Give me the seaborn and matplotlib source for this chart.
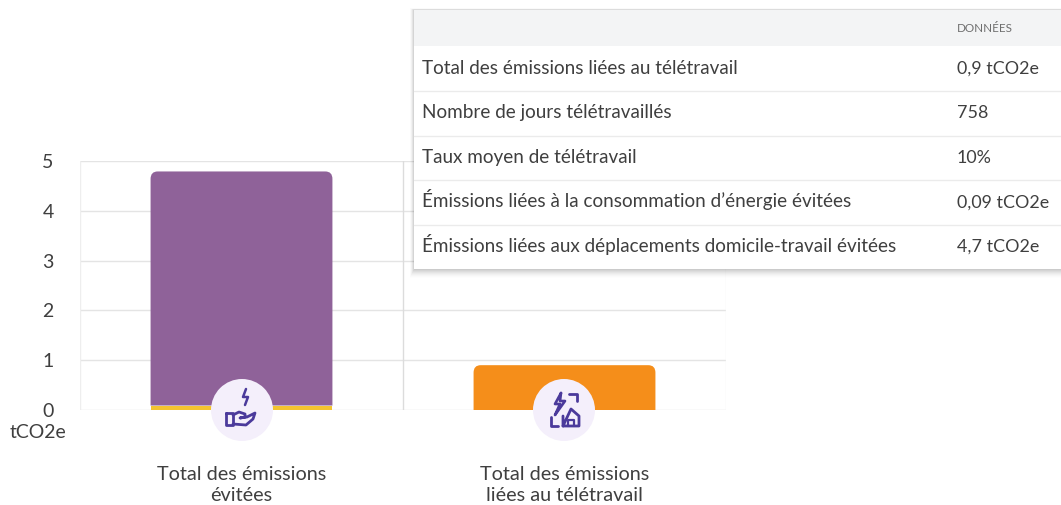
import numpy as np
import pandas as pd
import matplotlib
matplotlib.use("Agg")
import matplotlib.pyplot as plt
from matplotlib.path import Path
from matplotlib.patches import PathPatch, Rectangle, Circle
import seaborn as sns

categories = ["Total des émissions\névitées", "Total des émissions\nliées au télétravail"]
energy_avoided = [0.09, 0.0]
commute_avoided = [4.7, 0.0]
telework = [0.0, 0.9]
y_ticks = [0, 1, 2, 3, 4, 5]
unit = "tCO2e"
table_header = "DONNÉES"
table_rows = ["Total des émissions liées au télétravail", "Nombre de jours télétravaillés",
              "Taux moyen de télétravail", "Émissions liées à la consommation d’énergie évitées",
              "Émissions liées aux déplacements domicile-travail évitées"]
table_values = ["0,9 tCO2e", "758", "10%", "0,09 tCO2e", "4,7 tCO2e"]

W, H = 1061, 505
PURPLE, YELLOW, ORANGE = "#8F6299", "#F4C430", "#F58E1A"
GRID, TXT = "#E4E4E4", "#3F3F3F"

sns.set_theme(style="white")
plt.rcParams["font.family"] = ["Lato", "DejaVu Sans"]

fig = plt.figure(figsize=(W / 100, H / 100), dpi=100, facecolor="white")
ax = fig.add_axes([80 / W, (H - 410) / H, 646 / W, 249 / H])

df = pd.DataFrame({"cat": categories, "energy": energy_avoided, "commute": commute_avoided, "tele": telework})
bar_kw = dict(saturation=1, width=0.563, ax=ax, zorder=3, linewidth=0, edgecolor="none")
sns.barplot(data=df, x="cat", y="energy", color=YELLOW, **bar_kw)
sns.barplot(data=df, x="cat", y="commute", bottom=df["energy"], color=PURPLE, **bar_kw)
sns.barplot(data=df, x="cat", y="tele", color=ORANGE, **bar_kw)

ax.set_xlim(-0.5, 1.5)
ax.set_ylim(0, 5)

# round the top corners of the tall bars, keeping the geometry seaborn computed
rx, ry = 0.022, 0.15
for p in list(ax.patches):
    x0, y0, w, h = p.get_x(), p.get_y(), p.get_width(), p.get_height()
    fc = p.get_facecolor()
    if h > 0.5:
        x1, y1 = x0 + w, y0 + h
        verts = [(x0, y0), (x0, y1 - ry), (x0, y1), (x0 + rx, y1), (x1 - rx, y1), (x1, y1), (x1, y1 - ry), (x1, y0), (x0, y0)]
        codes = [Path.MOVETO, Path.LINETO, Path.CURVE3, Path.CURVE3, Path.LINETO, Path.CURVE3, Path.CURVE3, Path.LINETO, Path.CLOSEPOLY]
        p.remove()
        ax.add_patch(PathPatch(Path(verts, codes), facecolor=fc, edgecolor="none", linewidth=0, zorder=3))

ax.set_xticks([0, 1], categories)
ax.set_yticks(y_ticks)
ax.set_xlabel("")
ax.set_ylabel("")
ax.set_axisbelow(True)
ax.grid(axis="y", color=GRID, lw=1)
for x, c in zip([-0.5, 0.5, 1.5], ["#EEEEEE", "#DCDCDC", "#F4F4F4"]):
    ax.axvline(x, color=c, lw=1, zorder=1)
for s in ax.spines.values():
    s.set_visible(False)
ax.tick_params(axis="x", length=0, pad=40, labelsize=14.3, labelcolor=TXT)
ax.tick_params(axis="y", length=0, pad=19, labelsize=14, labelcolor=TXT)
for t in ax.get_xticklabels():
    t.set_linespacing(1.35)

ov = fig.add_axes([0, 0, 1, 1], facecolor="none")
ov.set_xlim(0, W)
ov.set_ylim(H, 0)
ov.axis("off")
ov.text(38, 432, unit, ha="center", va="center", fontsize=14, color=TXT)

# icon badges
INK = "#4B3A9B"
for cx in (242, 564):
    ov.add_patch(Circle((cx, 410), 31, fc="#F4EFFB", ec="none", zorder=4))
cx, cy = 242, 410
ov.plot(np.array([-2, -5, 0, -3]) + cx + 6, np.array([-17, -9, -9, -1]) + cy - 4, color=INK, lw=1.8, zorder=5)
ov.plot(np.array([-15, -8, -8, -15, -15]) + cx - 1, np.array([6, 6, 18, 18, 6]) + cy - 3, color=INK, lw=2, zorder=5)
ov.plot(np.array([-8, -2, 4, 4, -1, 6, 14, 12, 5, -8]) + cx - 1, np.array([8, 5, 7, 10, 11, 10, 6, 12, 18, 17]) + cy - 3, color=INK, lw=2, zorder=5)
cx = 564
ov.plot(np.array([-2, -8, -3, -8, 2, -3, -2]) + cx - 1, np.array([-17, -6, -6, 5, -9, -9, -17]) + cy, color=INK, lw=1.9, zorder=5)
ov.plot(np.array([5, 13, 13]) + cx, np.array([-16, -16, -9]) + cy, color=INK, lw=2, zorder=5)
ov.plot(np.array([-13, -13, -6]) + cx, np.array([7, 16, 16]) + cy, color=INK, lw=2, zorder=5)
ov.plot(np.array([-1, -1, 7, 15, 15, -1]) + cx, np.array([6, 16, -1, 6, 16, 16]) + cy, color=INK, lw=2, zorder=5)
ov.plot(np.array([4, 4, 10, 10]) + cx, np.array([16, 10, 10, 16]) + cy, color=INK, lw=1.6, zorder=5)

# table card with soft shadow
for i in range(9, 0, -1):
    ov.add_patch(Rectangle((414 - i * .45, 10 - i * .2), W - 414 + 20, 259 + i * 1.2, fc="black", alpha=.008 + .004 * (9 - i), ec="none", zorder=6))
ov.add_patch(Rectangle((414, 10), W - 414 + 5, 259, fc="white", ec="none", zorder=7))
ov.add_patch(Rectangle((414, 10), W - 414 + 5, 36, fc="#F3F4F5", ec="none", zorder=8))
ov.text(957, 28.5, table_header, fontsize=8.4, color="#6E6E6E", va="center", zorder=9)
row_base = [73.5, 118, 163, 207.5, 252]
for y_sep in (90.5, 135.5, 180, 224.5):
    ov.plot([414, W], [y_sep, y_sep], color="#EBEBEB", lw=1, zorder=8)
for y, lab, val in zip(row_base, table_rows, table_values):
    ov.text(422, y, lab, fontsize=13.55, color=TXT, va="baseline", zorder=9)
    ov.text(957, y, val, fontsize=12.9, color=TXT, va="baseline", zorder=9)

fig.savefig("out.png", dpi=100)
